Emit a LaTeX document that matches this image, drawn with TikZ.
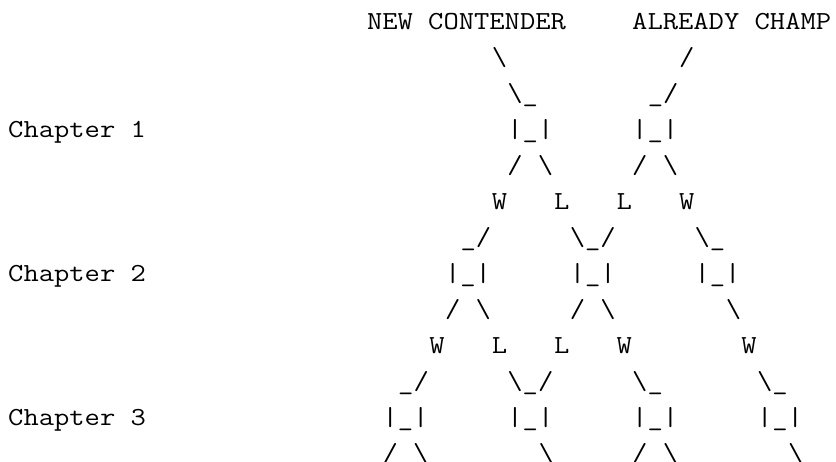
\documentclass[tikz,border=0pt]{standalone}
\usepackage{fontspec}
\usepackage{graphicx}
\newcommand\bs{\textbackslash}
\newcommand\asciicell[4]{\node[asc] (#1) at ({8.2+15.6*#2},{-29-36*(#3-1)}) {\scalebox{1.143}[1]{#4}};}
\tikzset{asc/.style={anchor=base west, inner sep=0pt, outer sep=0pt, text=black, font=\ttfamily\fontsize{26}{36}\selectfont}}
\begin{document}
\begin{tikzpicture}[x=1pt,y=1pt]
\useasboundingbox (0,0) rectangle (836,-461);
% row 1
\asciicell{r1a}{23}{1}{NEW CONTENDER}
\asciicell{r1b}{40}{1}{ALREADY CHAMP}
% row 2
\asciicell{r2a}{31}{2}{\bs}
\asciicell{r2b}{43}{2}{/}
% row 3
\asciicell{r3a}{32}{3}{\bs\_}
\asciicell{r3b}{41}{3}{\_/}
% row 4
\asciicell{c1}{0}{4}{Chapter 1}
\asciicell{r4a}{32}{4}{|\_|}
\asciicell{r4b}{40}{4}{|\_|}
% row 5
\asciicell{r5a}{32}{5}{/ \bs}
\asciicell{r5b}{40}{5}{/ \bs}
% row 6
\asciicell{r6a}{31}{6}{W}
\asciicell{r6b}{35}{6}{L}
\asciicell{r6c}{39}{6}{L}
\asciicell{r6d}{43}{6}{W}
% row 7
\asciicell{r7a}{29}{7}{\_/}
\asciicell{r7b}{36}{7}{\bs\_/}
\asciicell{r7c}{44}{7}{\bs\_}
% row 8
\asciicell{c2}{0}{8}{Chapter 2}
\asciicell{r8a}{28}{8}{|\_|}
\asciicell{r8b}{36}{8}{|\_|}
\asciicell{r8c}{44}{8}{|\_|}
% row 9
\asciicell{r9a}{28}{9}{/ \bs}
\asciicell{r9b}{36}{9}{/ \bs}
\asciicell{r9c}{46}{9}{\bs}
% row 10
\asciicell{r10a}{27}{10}{W}
\asciicell{r10b}{31}{10}{L}
\asciicell{r10c}{35}{10}{L}
\asciicell{r10d}{39}{10}{W}
\asciicell{r10e}{47}{10}{W}
% row 11
\asciicell{r11a}{25}{11}{\_/}
\asciicell{r11b}{32}{11}{\bs\_/}
\asciicell{r11c}{40}{11}{\bs\_}
\asciicell{r11d}{48}{11}{\bs\_}
% row 12
\asciicell{c3}{0}{12}{Chapter 3}
\asciicell{r12a}{24}{12}{|\_|}
\asciicell{r12b}{32}{12}{|\_|}
\asciicell{r12c}{40}{12}{|\_|}
\asciicell{r12d}{48}{12}{|\_|}
% row 13
\asciicell{r13a}{24}{13}{/ \bs}
\asciicell{r13b}{34}{13}{\bs}
\asciicell{r13c}{40}{13}{/ \bs}
\asciicell{r13d}{50}{13}{\bs}
\end{tikzpicture}
\end{document}
